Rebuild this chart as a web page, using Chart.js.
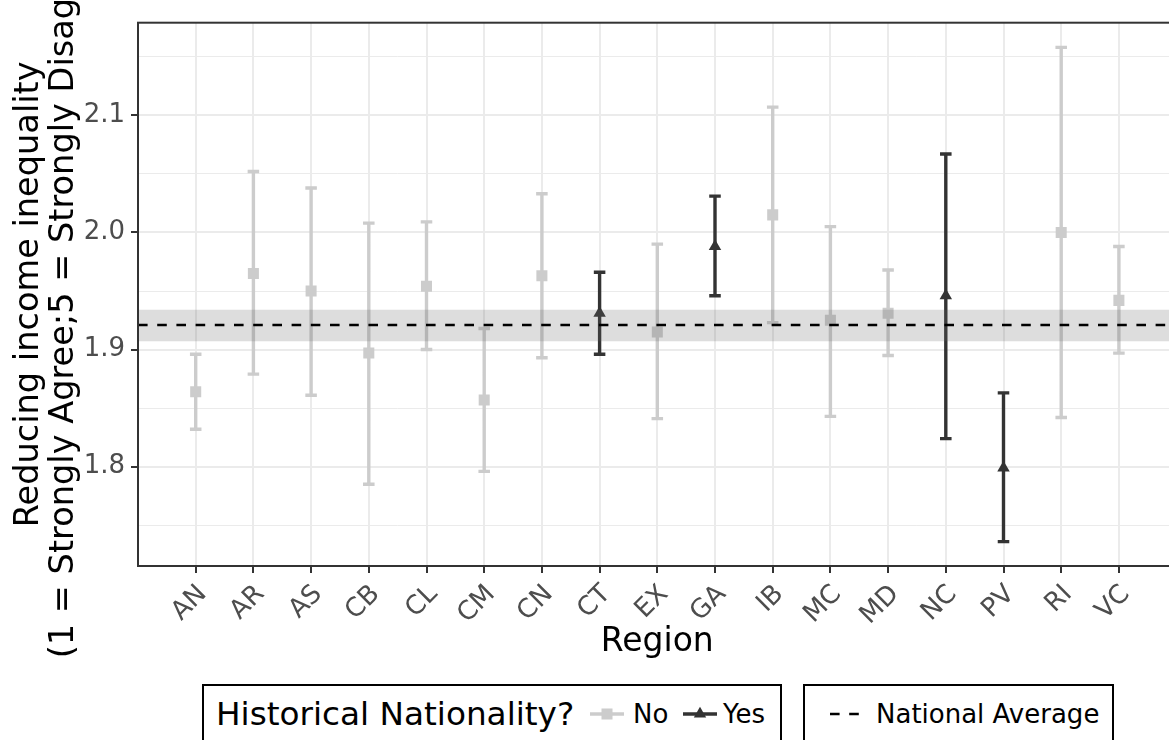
<!DOCTYPE html>
<html>
<head>
<meta charset="utf-8">
<script src="https://cdn.jsdelivr.net/npm/chart.js@4/dist/chart.umd.min.js"></script>
<style>
  html, body { margin: 0; padding: 0; background: #fff; overflow: hidden; width: 1169px; height: 740px; }
  #stage { position: relative; width: 1200px; height: 740px; font-family: 'DejaVu Sans', sans-serif; color: #000; }
  #plot { position: absolute; left: 0; top: 0; width: 1200px; height: 672px; }
  .lg { position: absolute; top: 684px; height: 80px; border: 2px solid #000; box-sizing: border-box; background: #fff; }
  .lg span, .lg svg { position: absolute; top: 0; white-space: nowrap; }
  .lg span { line-height: 56px; }
  .lg svg { top: 18px; }
  .ttl { font-size: 32.7px; }
  .lab { font-size: 26px; }
</style>
</head>
<body>
<div id="stage">
  <div id="plot"><canvas id="chart"></canvas></div>

  <div class="lg" style="left:202px; width:580px;">
    <span class="ttl" style="left:12px;">Historical Nationality?</span>
    <svg style="left:386px;" width="34" height="20">
      <line x1="0" y1="10" x2="34" y2="10" stroke="#cccccc" stroke-width="3.4"/>
      <rect x="11.5" y="4.5" width="11" height="11" fill="#cccccc"/>
    </svg>
    <span class="lab" style="left:429px;">No</span>
    <svg style="left:479px;" width="34" height="20">
      <line x1="0" y1="10" x2="34" y2="10" stroke="#333333" stroke-width="3.4"/>
      <polygon points="17,2.8 23.2,13.6 10.8,13.6" fill="#333333"/>
    </svg>
    <span class="lab" style="left:519px;">Yes</span>
  </div>

  <div class="lg" style="left:803px; width:311px;">
    <svg style="left:23px;" width="34" height="20">
      <line x1="2" y1="10" x2="34" y2="10" stroke="#000" stroke-width="2.4" stroke-dasharray="9.6 9.6"/>
    </svg>
    <span class="lab" style="left:71px;">National Average</span>
  </div>
</div>

<script>
// Regional means with 95% confidence intervals
const regions = ['AN', 'AR', 'AS', 'CB', 'CL', 'CM', 'CN', 'CT', 'EX', 'GA', 'IB', 'MC', 'MD', 'NC', 'PV', 'RI', 'VC'];
const historicalNationality = ['No', 'No', 'No', 'No', 'No', 'No', 'No', 'Yes', 'No', 'Yes', 'No', 'No', 'No', 'Yes', 'Yes', 'No', 'No'];
const meanScore = [1.864, 1.965, 1.950, 1.897, 1.954, 1.857, 1.963, 1.931, 1.915, 1.988, 2.015, 1.925, 1.931, 1.946, 1.799, 2.000, 1.942];
const ciLower   = [1.832, 1.879, 1.861, 1.785, 1.900, 1.796, 1.893, 1.896, 1.841, 1.946, 1.923, 1.843, 1.895, 1.824, 1.736, 1.842, 1.897];
const ciUpper   = [1.896, 2.052, 2.038, 2.008, 2.009, 1.918, 2.033, 1.966, 1.990, 2.031, 2.107, 2.005, 1.968, 2.067, 1.863, 2.158, 1.988];

// National average and its confidence band
const nationalAverage = 1.921;
const nationalLower = 1.907;
const nationalUpper = 1.934;

// Axis ticks
const yMajorTicks = [1.8, 1.9, 2.0, 2.1];
const yMinorTicks = [1.75, 1.85, 1.95, 2.05, 2.15];

const COLOR_NO = '#cccccc';
const COLOR_YES = '#333333';
const CAP_HALF = 0.1;

function isMajor(v) { return yMajorTicks.some(t => Math.abs(t - v) < 1e-6); }

function errorBarPath(group) {
  const pts = [];
  regions.forEach((r, i) => {
    if (historicalNationality[i] !== group) return;
    pts.push(
      { x: i - CAP_HALF, y: ciUpper[i] }, { x: i + CAP_HALF, y: ciUpper[i] }, { x: i, y: null },
      { x: i, y: ciUpper[i] }, { x: i, y: ciLower[i] }, { x: i, y: null },
      { x: i - CAP_HALF, y: ciLower[i] }, { x: i + CAP_HALF, y: ciLower[i] }, { x: i, y: null }
    );
  });
  return pts;
}

function meanPoints(group) {
  const pts = [];
  regions.forEach((r, i) => {
    if (historicalNationality[i] === group) pts.push({ x: i, y: meanScore[i] });
  });
  return pts;
}

const X_MIN = -1, X_MAX = regions.length;

const panelBorder = {
  id: 'panelBorder',
  afterDraw(chart) {
    const { ctx, chartArea: a } = chart;
    ctx.save();
    ctx.strokeStyle = '#333333';
    ctx.lineWidth = 2;
    ctx.strokeRect(a.left, a.top, a.right - a.left, a.bottom - a.top);
    ctx.restore();
  }
};

const yAxisTitle = {
  id: 'yAxisTitle',
  afterDraw(chart) {
    const { ctx, chartArea: a } = chart;
    const cy = (a.top + a.bottom) / 2;
    ctx.save();
    ctx.translate(0, cy);
    ctx.rotate(-Math.PI / 2);
    ctx.fillStyle = '#000';
    ctx.font = "33.6px 'DejaVu Sans'";
    ctx.textAlign = 'center';
    ctx.textBaseline = 'alphabetic';
    ctx.fillText('Reducing income inequality', 0, 38.3);
    ctx.fillText('(1 = Strongly Agree;5 = Strongly Disagree)', 0, 72.7);
    ctx.restore();
  }
};

Chart.defaults.font.family = "'DejaVu Sans', sans-serif";

new Chart(document.getElementById('chart'), {
  type: 'line',
  data: {
    datasets: [
      {
        label: 'National Average',
        data: [{ x: X_MIN, y: nationalAverage }, { x: X_MAX, y: nationalAverage }],
        borderColor: '#000', borderWidth: 2.4, borderDash: [9.6, 9.6],
        pointRadius: 0, fill: false, order: 0
      },
      {
        label: 'band upper',
        data: [{ x: X_MIN, y: nationalUpper }, { x: X_MAX, y: nationalUpper }],
        borderWidth: 0, borderColor: 'rgba(0,0,0,0)', pointRadius: 0,
        backgroundColor: 'rgba(100,100,100,0.22)', fill: '+1', order: 1
      },
      {
        label: 'band lower',
        data: [{ x: X_MIN, y: nationalLower }, { x: X_MAX, y: nationalLower }],
        borderWidth: 0, borderColor: 'rgba(0,0,0,0)', pointRadius: 0, fill: false, order: 1
      },
      {
        label: 'No',
        data: meanPoints('No'),
        showLine: false, pointStyle: 'rect', pointRadius: 7.8, pointBorderWidth: 0,
        pointBackgroundColor: COLOR_NO, order: 2
      },
      {
        label: 'Yes',
        data: meanPoints('Yes'),
        showLine: false, pointStyle: 'triangle', pointRadius: 7.2, pointBorderWidth: 0,
        pointBackgroundColor: COLOR_YES, order: 2
      },
      {
        label: 'No CI',
        data: errorBarPath('No'),
        borderColor: COLOR_NO, borderWidth: 3.4, borderCapStyle: 'butt',
        pointRadius: 0, spanGaps: false, fill: false, order: 3
      },
      {
        label: 'Yes CI',
        data: errorBarPath('Yes'),
        borderColor: COLOR_YES, borderWidth: 3.4, borderCapStyle: 'butt',
        pointRadius: 0, spanGaps: false, fill: false, order: 3
      }
    ]
  },
  options: {
    responsive: true,
    maintainAspectRatio: false,
    animation: false,
    layout: { padding: { top: 22.7, right: 23.4, bottom: 0, left: 0 } },
    plugins: { legend: { display: false }, tooltip: { enabled: false } },
    elements: { line: { tension: 0 } },
    scales: {
      x: {
        type: 'linear',
        min: X_MIN, max: X_MAX,
        afterBuildTicks: s => { s.ticks = regions.map((r, i) => ({ value: i })); },
        afterFit: s => { s.height = 106; },
        ticks: {
          callback: v => regions[v] ?? '',
          autoSkip: false, minRotation: 45, maxRotation: 45,
          color: '#4d4d4d', font: { size: 26 }, padding: 6, labelOffset: 7
        },
        grid: { color: '#ebebeb', lineWidth: 2, tickColor: '#333333', tickLength: 7, tickWidth: 2 },
        border: { display: false },
        title: { display: true, text: 'Region', color: '#000', font: { size: 33 }, padding: { top: 0, bottom: 9.8 } }
      },
      y: {
        type: 'linear',
        min: 1.7152, max: 2.1791,
        afterBuildTicks: s => {
          s.ticks = [...yMinorTicks, ...yMajorTicks].sort((a, b) => a - b).map(v => ({ value: v }));
        },
        afterFit: s => { s.width = 138; },
        ticks: {
          callback: v => isMajor(v) ? v.toFixed(1) : '',
          color: '#4d4d4d', font: { size: 26 }, padding: 6
        },
        grid: {
          color: '#ebebeb',
          lineWidth: c => (c.tick && isMajor(c.tick.value)) ? 2 : 1,
          tickColor: c => (c.tick && isMajor(c.tick.value)) ? '#333333' : 'rgba(0,0,0,0)',
          tickLength: 7, tickWidth: 2
        },
        border: { display: false },
        title: { display: false }
      }
    }
  },
  plugins: [panelBorder, yAxisTitle]
});
</script>
</body>
</html>
